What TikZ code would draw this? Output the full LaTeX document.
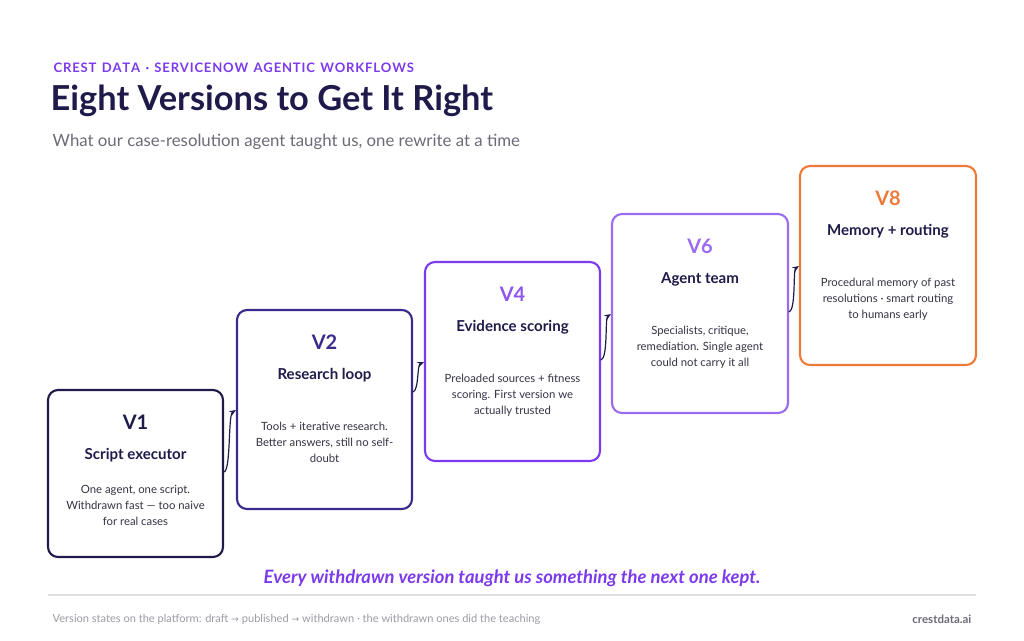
\documentclass[tikz,border=0pt]{standalone}
\usepackage{fontspec}
\setmainfont{Lato}
\newfontfamily\sym{DejaVu Sans}
\usetikzlibrary{arrows.meta}
\definecolor{navy}{HTML}{1E1B4B}
\definecolor{ind}{HTML}{3B2A8C}
\definecolor{pur}{HTML}{7C3AED}
\definecolor{lpur}{HTML}{9A6BF0}
\definecolor{org}{HTML}{EE7A3A}
\definecolor{txt}{HTML}{333344}
\definecolor{gr}{HTML}{6B6B78}
\definecolor{lgr}{HTML}{9A9AA5}
\tikzset{
 box/.style={draw=#1,line width=1.6pt,rounded corners=7.5pt,fill=white},
 ver/.style={font=\fontsize{15}{18}\selectfont\bfseries,text=#1,anchor=center},
 ttl/.style={font=\fontsize{11.3}{13}\selectfont\bfseries,text=navy,anchor=center},
 dsc/.style={font=\fontsize{8.5}{12}\selectfont,text=txt,align=center,anchor=north}
 ,con/.style={draw=navy,line width=0.9pt,-{Stealth[length=5pt,width=4pt]}}
}
\begin{document}
\begin{tikzpicture}[x=0.75pt,y=-0.75pt]
\useasboundingbox (0,0) rectangle (1024,640);
\node[anchor=west,font=\fontsize{9.8}{12}\selectfont\bfseries,text=pur] (kick) at (49,68) {C\kern.6pt R\kern.6pt E\kern.6pt S\kern.6pt T\ \,D\kern.6pt A\kern.6pt T\kern.6pt A\ \,·\ \,S\kern.6pt E\kern.6pt R\kern.6pt V\kern.6pt I\kern.6pt C\kern.6pt E\kern.6pt N\kern.6pt O\kern.6pt W\ \,A\kern.6pt G\kern.6pt E\kern.6pt N\kern.6pt T\kern.6pt I\kern.6pt C\ \,W\kern.6pt O\kern.6pt R\kern.6pt K\kern.6pt F\kern.6pt L\kern.6pt O\kern.6pt W\kern.6pt S};
\node[anchor=west,font=\fontsize{25.8}{30}\selectfont\bfseries,text=navy] (title) at (46,101) {Eight Versions to Get It Right};
\node[anchor=west,font=\fontsize{12.6}{15}\selectfont,text=gr] (sub) at (48,142) {What our case-resolution agent taught us, one rewrite at a time};
% boxes
\draw[box=navy] (48,390) rectangle (223,557);
\draw[box=ind] (237,310) rectangle (412,509);
\draw[box=pur] (425,262) rectangle (600,461);
\draw[box=lpur] (612,214) rectangle (788,413);
\draw[box=org] (800,166) rectangle (976,365);
% V1
\node[ver=navy] (v1) at (135.5,422) {V1};
\node[ttl] (t1) at (135.5,455) {Script executor};
\node[dsc] (d1) at (135.5,481) {One agent, one script.\\Withdrawn fast — too naive\\for real cases};
% V2
\node[ver=ind] (v2) at (324.5,342) {V2};
\node[ttl] (t2) at (324.5,375) {Research loop};
\node[dsc] (d2) at (324.5,417) {Tools + iterative research.\\Better answers, still no self-\\doubt};
% V4
\node[ver=pur!85!white] (v4) at (512.5,294) {V4};
\node[ttl] (t4) at (512.5,327) {Evidence scoring};
\node[dsc] (d4) at (512.5,369) {Preloaded sources + fitness\\scoring. First version we\\actually trusted};
% V6
\node[ver=lpur] (v6) at (700,246) {V6};
\node[ttl] (t6) at (700,279) {Agent team};
\node[dsc] (d6) at (700,321) {Specialists, critique,\\remediation. Single agent\\could not carry it all};
% V8
\node[ver=org] (v8) at (888,198) {V8};
\node[ttl] (t8) at (888,231) {Memory + routing};
\node[dsc] (d8) at (888,273) {Procedural memory of past\\resolutions · smart routing\\to humans early};
% connectors
\coordinate (a1) at (224,472); \coordinate (b1) at (236,410);
\coordinate (a2) at (413,392); \coordinate (b2) at (424,362);
\coordinate (a3) at (601,360); \coordinate (b3) at (611,314);
\coordinate (a4) at (789,312); \coordinate (b4) at (799,266);
\draw[con] (a1) .. controls (231,470) and (228,415) .. (b1);
\draw[con] (a2) .. controls (419,390) and (417,365) .. (b2);
\draw[con] (a3) .. controls (608,358) and (605,318) .. (b3);
\draw[con] (a4) .. controls (796,310) and (793,270) .. (b4);
% tagline
\node[font=\fontsize{13.8}{16}\selectfont\bfseries\itshape,text=pur] (tag) at (512,578) {Every withdrawn version taught us something the next one kept.};
\coordinate (l1) at (48,595); \coordinate (l2) at (976,595);
\draw[draw=black!12,line width=0.8pt] (l1) -- (l2);
\node[anchor=west,font=\fontsize{8.3}{10}\selectfont,text=lgr] (foot) at (48,619) {Version states on the platform: draft {\sym\fontsize{7}{8}\selectfont→} published {\sym\fontsize{7}{8}\selectfont→} withdrawn · the withdrawn ones did the teaching};
\node[anchor=east,font=\fontsize{8.6}{10}\selectfont\bfseries,text=gr] (url) at (976,619) {crestdata.ai};
\end{tikzpicture}
\end{document}
